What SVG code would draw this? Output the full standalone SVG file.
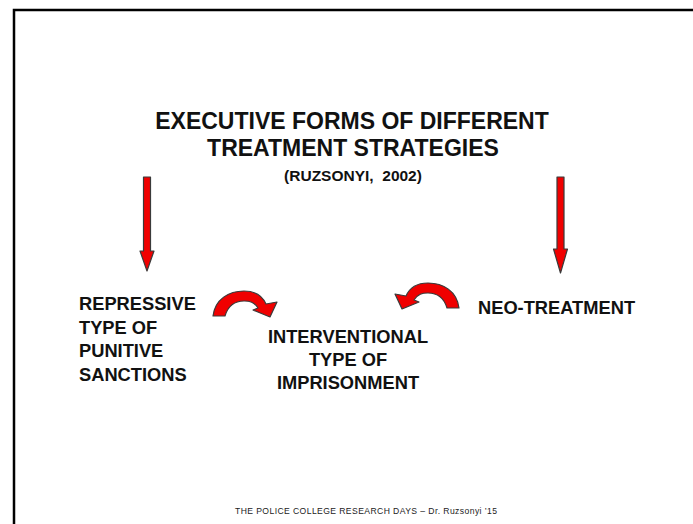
<svg xmlns="http://www.w3.org/2000/svg" xmlns:xlink="http://www.w3.org/1999/xlink" width="693" height="524" viewBox="0 0 693 524">
<style>
.t{font-family:"Liberation Sans",Arial,sans-serif;font-weight:bold;fill:#111}
.arr{fill:#f00000;stroke:#3a3a3a;stroke-width:1.2;stroke-linejoin:round}
</style>
<defs>
<path id="curv" d="M213,316 C215,299 229,291 244,291 C256,291 263,297 266,304 L277,302 L270,317 L253,310 L258,308 C254,302 250,301 244,301 C235,301 228,306 225,316 Z"/>
</defs>
<rect width="693" height="524" fill="#fff"/>
<g id="frame"><path d="M14,526 V10 H695" fill="none" stroke="#000" stroke-width="2.5"/></g>
<g id="title">
<text class="t" x="352" y="129" font-size="23" text-anchor="middle">EXECUTIVE FORMS OF DIFFERENT</text>
<text class="t" x="353" y="156" font-size="23" text-anchor="middle">TREATMENT STRATEGIES</text>
<text class="t" x="353" y="181" font-size="15.5" text-anchor="middle" xml:space="preserve">(RUZSONYI,  2002)</text>
</g>
<g id="repressive">
<text class="t" x="79" y="310" font-size="18.3">REPRESSIVE</text>
<text class="t" x="79" y="334" font-size="18.3">TYPE OF</text>
<text class="t" x="79" y="357" font-size="18.3">PUNITIVE</text>
<text class="t" x="79" y="381" font-size="18.3">SANCTIONS</text>
</g>
<g id="interventional">
<text class="t" x="348" y="343" font-size="18.3" text-anchor="middle">INTERVENTIONAL</text>
<text class="t" x="348" y="366" font-size="18.3" text-anchor="middle">TYPE OF</text>
<text class="t" x="348" y="389" font-size="18.3" text-anchor="middle">IMPRISONMENT</text>
</g>
<g id="neo">
<text class="t" x="478" y="314" font-size="18.3">NEO-TREATMENT</text>
</g>
<g id="connectors">
<path class="arr" d="M143.5,177 H150.5 V251 H154 L147,271 L140,251 H143.5 Z"/>
<path class="arr" d="M557,177 H564 V249 H567.5 L560.5,273 L553.5,249 H557 Z"/>
<use xlink:href="#curv" class="arr"/>
<use xlink:href="#curv" class="arr" transform="translate(672,-8) scale(-1,1)"/>
</g>
<g id="footer">
<text x="366" y="514" font-family="Liberation Sans,Arial,sans-serif" font-size="8.6" fill="#222" text-anchor="middle" textLength="262">THE POLICE COLLEGE RESEARCH DAYS – Dr. Ruzsonyi ’15</text>
</g>
</svg>
